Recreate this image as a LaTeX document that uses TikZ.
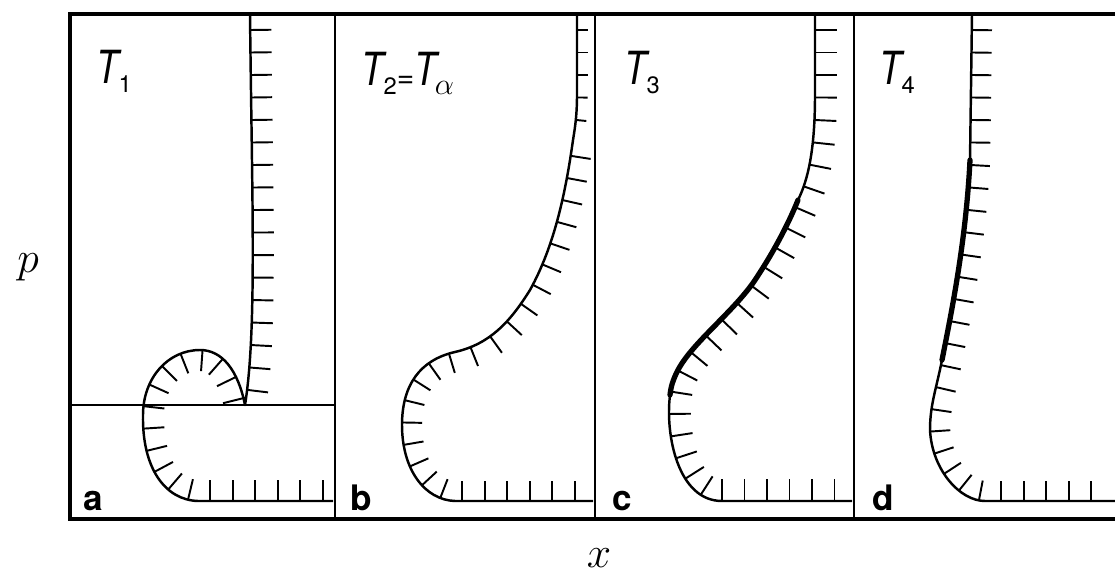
\documentclass[tikz,border=0pt]{standalone}
\usepackage{fontspec}
\usetikzlibrary{decorations.markings}
\newfontfamily\helv{TeX Gyre Heros}
\newcommand\tT{\scalebox{0.8}[1]{T}}
\newcommand\tsub[1]{\raisebox{-5pt}{\fontsize{13.5}{14}\selectfont\upshape #1}}

\begin{document}
\begin{tikzpicture}[
  x=0.02cm, y=-0.02cm,
  outerframe/.style={line width=2pt},
  divider/.style={line width=1.5pt},
  thinline/.style={line width=1pt},
  curveline/.style={line width=1.4pt, line join=round},
  thickfront/.style={line width=3pt, line cap=round},
  hatchtick/.style={line width=1.1pt},
  hatch/.style={postaction={decorate, decoration={markings,
      mark=between positions 0.32cm and -0.2cm step 0.45cm
      with {\draw[hatchtick] (0pt,0pt) -- (0pt,#1);}}}},
  templabel/.style={font=\helv\itshape\fontsize{26}{28}\selectfont, anchor=base west, inner sep=0pt},
  panellabel/.style={font=\helv\bfseries\fontsize{20}{22}\selectfont, anchor=base west, inner sep=0pt},
  axislabel/.style={font=\fontsize{32}{36}\selectfont, anchor=base, inner sep=0pt}
]
\useasboundingbox (0,0) rectangle (1115,574);

% frame and panels
\draw[outerframe] (1115,14) -- (70,14) -- (70,519) -- (1115,519);
\foreach \xd in {335,595,854}
  \draw[divider] (\xd,14) -- (\xd,519);
\draw[thinline] (70,405) -- (335,405);

% a
\draw[curveline, hatch=12pt] (250,14) .. controls (252,200) and (257,330) .. (245,405)
  .. controls (238,370) and (222,350) .. (200,350)
  .. controls (168,350) and (143,378) .. (143,415)
  .. controls (142,468) and (165,500) .. (198,501) -- (333,501);

% b
\draw[curveline, hatch=6pt] (577,14) -- (577,95) .. controls (577,115) and (575,128) .. (573,140);
\draw[curveline, hatch=11.5pt] (573,140) .. controls (566,190) and (555,245) .. (530,290)
  .. controls (510,322) and (490,344) .. (455,352)
  .. controls (420,360) and (402,385) .. (402,425)
  .. controls (402,470) and (425,500) .. (455,501) -- (593,501);

% c
\draw[curveline, hatch=12.5pt] (815,14) -- (815,95) .. controls (815,150) and (808,180) .. (798,200)
  .. controls (788,225) and (772,255) .. (753,283)
  .. controls (730,315) and (690,345) .. (677,372)
  .. controls (673,380) and (671,386) .. (670,395)
  .. controls (665,435) and (678,501) .. (722,501) -- (852,501);
\draw[thickfront] (798,200) .. controls (788,225) and (772,255) .. (753,283)
  .. controls (730,315) and (690,345) .. (677,372)
  .. controls (673,380) and (671,386) .. (670,395);

% d
\draw[curveline, hatch=11.5pt] (972,14) -- (970,160)
  .. controls (966,240) and (952,310) .. (942,360)
  .. controls (936,390) and (930,405) .. (930,430)
  .. controls (932,470) and (960,501) .. (985,501) -- (1115,501);
\draw[thickfront] (970,160) .. controls (966,240) and (952,310) .. (942,360);

\node[templabel] (t1) at (96,84) {\tT\tsub{1}};
\node[templabel] (t2) at (361,86) {\tT\tsub{2}{\fontsize{17}{17}\selectfont\raisebox{-1pt}{=}}\tT\kern-1pt\tsub{\fontsize{19}{19}\selectfont$\alpha$}};
\node[templabel] (t3) at (624,85) {\tT\tsub{3}};
\node[templabel] (t4) at (879,85) {\tT\tsub{4}};

\node[panellabel] (pa) at (83,510) {a};
\node[panellabel] (pb) at (350,510) {b};
\node[panellabel] (pc) at (612,510) {c};
\node[panellabel] (pd) at (872,510) {d};

\node[axislabel] (plabel) at (28,273) {$p$};
\node[axislabel] (xlabel) at (599,567) {$x$};
\end{tikzpicture}
\end{document}
